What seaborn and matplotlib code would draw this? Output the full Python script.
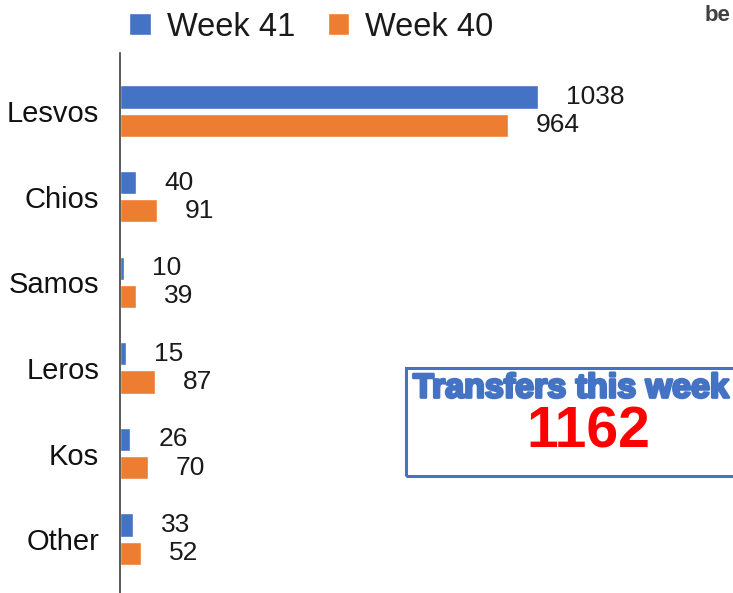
import pandas as pd
import matplotlib.pyplot as plt
import matplotlib.patheffects as pe
from matplotlib.patches import Rectangle
import seaborn as sns

# data
islands = ["Lesvos", "Chios", "Samos", "Leros", "Kos", "Other"]
week41 = [1038, 40, 10, 15, 26, 33]
week40 = [964, 91, 39, 87, 70, 52]
total_this_week = 1162

df = pd.DataFrame({
    "island": islands * 2,
    "value": week41 + week40,
    "week": ["Week 41"] * len(islands) + ["Week 40"] * len(islands),
})

sns.set_style("white")
plt.rcParams["font.family"] = ["Liberation Sans", "DejaVu Sans"]

fig = plt.figure(figsize=(7.33, 5.93), dpi=100)
ax = fig.add_axes([120 / 733, 0, 1 - 120 / 733, 540 / 593])

palette = {"Week 41": "#4472C4", "Week 40": "#ED7D31"}
sns.barplot(data=df, x="value", y="island", hue="week", order=islands,
            hue_order=["Week 41", "Week 40"], palette=palette, orient="h",
            width=0.66, gap=0.18, saturation=1, ax=ax, legend=True)

for cont in ax.containers:
    ax.bar_label(cont, padding=20, fontsize=19, color="#1a1a1a")

ax.set_xlim(0, 1522)
ax.set_ylim(5.63, -0.68)
ax.set_xlabel("")
ax.set_ylabel("")
ax.set_xticks([])
ax.tick_params(axis="y", length=0, pad=15, labelsize=21, labelcolor="#111111")
for s in ["top", "right", "bottom"]:
    ax.spines[s].set_visible(False)
ax.spines["left"].set_color("#404040")
ax.spines["left"].set_linewidth(1.2)

handles, labels = ax.get_legend_handles_labels()
ax.legend(handles, labels, ncol=2, frameon=False, fontsize=23.5,
          loc="upper left", bbox_to_anchor=(100 / 733, 1.03),
          bbox_transform=fig.transFigure, handlelength=0.65, handleheight=0.65,
          handletextpad=0.5, columnspacing=1.0, labelcolor="#1a1a1a")

# summary box on the right
fig.patches.append(Rectangle((406 / 733, 117 / 593), 0.5, 108 / 593,
                             transform=fig.transFigure, fill=False,
                             edgecolor="#4472C4", linewidth=2.2))
fig.text(413 / 733, (593 - 389) / 593, "Transfers this week",
         fontsize=24.5, fontweight="bold", color="#4472C4", va="center",
         path_effects=[pe.withStroke(linewidth=2, foreground="#4472C4")])
fig.text(588 / 733, (593 - 432) / 593, str(total_this_week), fontsize=41,
         fontweight="bold", color="#FF0000", ha="center", va="center")
fig.text(705 / 733, (593 - 21) / 593, "be", fontsize=16, fontweight="bold",
         color="#404040")

fig.savefig("out.png", dpi=100)
